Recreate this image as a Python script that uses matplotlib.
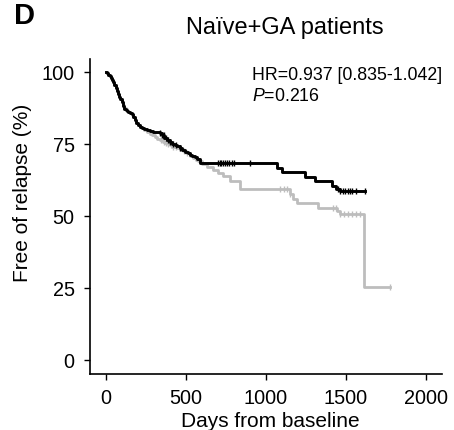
import numpy as np
import matplotlib
matplotlib.use("Agg")
import matplotlib.pyplot as plt

plt.rcParams['font.family'] = ['Liberation Sans', 'DejaVu Sans']
plt.rcParams['mathtext.fontset'] = 'custom'
plt.rcParams['mathtext.it'] = 'Liberation Sans:italic'
plt.rcParams['mathtext.rm'] = 'Liberation Sans'

# Kaplan-Meier steps (days, % free of relapse)
black_t = [0, 8, 15, 22, 30, 38, 44, 52, 60, 68, 75, 82, 90, 98, 106, 114, 122, 130,
           140, 150, 160, 169, 180, 190, 200, 212, 225, 240, 255, 275, 295, 315, 337,
           350, 365, 380, 400, 415, 430, 445, 462, 478, 495, 510, 525, 540, 555, 570,
           590, 1069, 1100, 1244, 1306, 1412, 1440, 1462, 1619]
black_s = [100, 99.5, 99, 98.5, 97.8, 97.2, 96.6, 95.5, 94.4, 93.3, 92.2, 91.4, 90.6,
           89.4, 88.2, 87.2, 86.8, 86.4, 86, 85.7, 85.4, 84.4, 83.3, 82.2, 81.6, 81,
           80.6, 80.2, 79.8, 79.5, 79.2, 79, 78.8, 78, 77.2, 76.5, 75.7, 75.1, 74.6,
           74.2, 73.7, 73, 72.3, 71.8, 71.3, 70.8, 70.3, 69.8, 68.3, 66.7, 65.3, 63.5,
           62.2, 60.5, 59.5, 58.8, 58.8]
black_cens = [337, 350, 362, 375, 388, 400, 418, 440, 465, 700, 710, 720, 730, 742, 755,
              770, 785, 800, 900, 1450, 1465, 1480, 1495, 1510, 1525, 1540, 1560, 1619]

grey_t = [0, 8, 15, 22, 30, 38, 44, 52, 60, 68, 75, 82, 90, 98, 106, 114, 122, 130,
          140, 150, 160, 169, 180, 190, 200, 212, 225, 240, 255, 275, 290, 305, 320,
          337, 355, 370, 385, 400, 415, 430, 445, 462, 480, 500, 525, 545, 560, 575,
          600, 631, 669, 700, 731, 775, 837, 1150, 1170, 1195, 1325, 1444, 1460, 1610,
          1775]
grey_s = [100, 99.5, 99, 98.5, 97.8, 97.2, 96.6, 95.5, 94.4, 93.3, 92.2, 91.4, 90.6,
          89.4, 88.4, 87.6, 87, 86.5, 86, 85.6, 85, 84.2, 83.2, 82.2, 81.5, 81, 80.4,
          79.8, 79.2, 78.6, 78, 77.4, 76.8, 76.3, 75.8, 75.3, 74.9, 74.5, 74.1, 73.8,
          73.5, 73.2, 72.4, 71.8, 70.8, 70.2, 69.5, 69, 68, 67, 66, 65, 63.9, 62, 59.4,
          57.6, 56, 54.5, 52.8, 51.7, 50.7, 25.3, 25.3]
grey_cens = [345, 360, 375, 390, 405, 420, 440, 460, 485, 505, 1090, 1110, 1130, 1150,
             1420, 1440, 1462, 1485, 1510, 1535, 1560, 1585, 1775]

yticks = [0, 25, 50, 75, 100]
xticks = [0, 500, 1000, 1500, 2000]


def surv_at(t_list, s_list, times):
    idx = np.searchsorted(t_list, times, side='right') - 1
    return np.array(s_list)[idx]


fig = plt.figure(figsize=(4.54, 4.31), dpi=100)
ax = fig.add_axes([90 / 454, 1 - 375 / 431, 352 / 454, 315 / 431])

grey = '#bdbdbd'
ax.step(grey_t, grey_s, where='post', color=grey, lw=2, zorder=2)
ax.plot(grey_cens, surv_at(grey_t, grey_s, grey_cens), ls='none', marker='|',
        ms=5, mew=1, color=grey, zorder=2)
ax.step(black_t, black_s, where='post', color='black', lw=2.1, zorder=3)
ax.plot(black_cens, surv_at(black_t, black_s, black_cens), ls='none', marker='|',
        ms=5, mew=1, color='black', zorder=3)

ax.set_xlim(-100, 2100)
ax.set_ylim(-4.9, 104.5)
ax.set_xticks(xticks)
ax.set_yticks(yticks)
ax.tick_params(labelsize=14.3, length=4, width=1, pad=6)
ax.tick_params(axis='y', pad=7)
for side in ['top', 'right']:
    ax.spines[side].set_visible(False)
for side in ['left', 'bottom']:
    ax.spines[side].set_linewidth(1.2)

fig.text(0.055, 0.962, 'D', fontsize=21, fontweight='bold', ha='center', va='center')
fig.text(0.628, 0.934, 'Naïve+GA patients', fontsize=17, ha='center', va='center')
fig.text(252 / 454, 1 - 75 / 431, 'HR=0.937 [0.835-1.042]', fontsize=12.8, va='center')
fig.text(252 / 454, 1 - 97 / 431, r'$\it{P}$=0.216', fontsize=12.8, va='center')
fig.text(23 / 454, 1 - 193 / 431, 'Free of relapse (%)', fontsize=15, rotation=90,
         ha='center', va='center')
fig.text(270 / 454, 1 - 422 / 431, 'Days from baseline', fontsize=15, ha='center', va='center')

fig.savefig('out.png', dpi=100)
